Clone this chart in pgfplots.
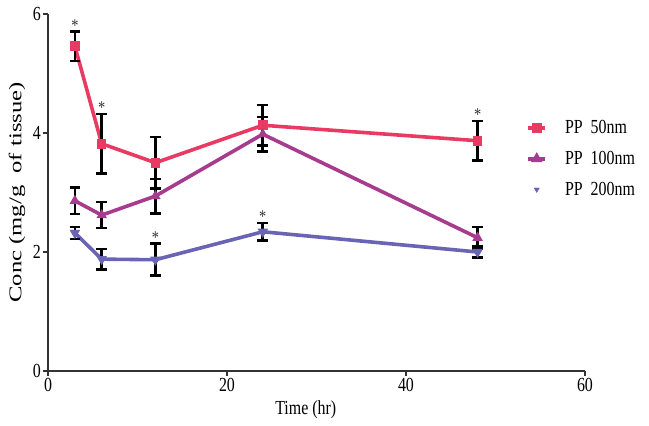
\documentclass[border=0pt]{standalone}
\usepackage{pgfplots}
\pgfplotsset{compat=1.18}
\usepackage{fontspec}
\setmainfont{Liberation Serif}
\definecolor{cA}{HTML}{E93A63}
\definecolor{cB}{HTML}{A73B8E}
\definecolor{cC}{HTML}{6A64B4}
\definecolor{axc}{HTML}{333333}
\newcommand\sx[1]{\scalebox{0.8}[1]{#1}}
\begin{document}
\begin{tikzpicture}
\path[use as bounding box] (-48bp,-55bp) rectangle (601bp,357bp+14bp);
\begin{axis}[
  width=537bp, height=357bp, scale only axis,
  at={(0,0)}, anchor=south west,
  xmin=0, xmax=60, ymin=0, ymax=6,
  xtick={0,20,40,60}, ytick={0,2,4,6},
  xticklabels={\sx{0},\sx{20},\sx{40},\sx{60}},
  yticklabels={\sx{0},\sx{2},\sx{4},\sx{6}},
  axis lines*=left,
  axis line style={axc, line width=1.4bp},
  tick style={axc, line width=1.2bp},
  tick align=outside, major tick length=5bp,
  font=\fontsize{20}{22}\selectfont,
  tick label style={font=\fontsize{20}{22}\selectfont, inner sep=2bp},
  xlabel={\sx{Time (hr)}},
  xlabel style={at={(axis description cs:0.48,0)}, anchor=north, yshift=-26bp},
  ylabel={\scalebox{1.03}[0.75]{\fontsize{24}{26}\selectfont Conc (mg/g\ \ of tissue)}},
  ylabel style={yshift=2bp},
  clip=false,
  legend style={draw=none, fill=none, at={(axis description cs:0.885,0.713)}, anchor=north west,
    font=\fontsize{20}{22}\selectfont, row sep=12bp, column sep=16bp, legend cell align=left},
  error bars/y dir=both, error bars/y explicit,
  error bars/error bar style={black, line width=2.6bp},
  error bars/error mark options={black, line width=2.6bp, mark size=5.3bp, rotate=90},
]
% PP 50nm
\addplot[cA, line width=3.6bp, mark=square*, mark size=3bp, forget plot]
  coordinates {(3,5.46)+-(0,0.25) (6,3.82)+-(0,0.50) (12,3.50)+-(0,0.43) (24,4.13)+-(0,0.34) (48,3.87)+-(0,0.33)};
% PP 100nm
\addplot[cB, line width=3.6bp, mark=triangle*, mark size=2.5bp, forget plot]
  coordinates {(3,2.86)+-(0,0.22) (6,2.62)+-(0,0.22) (12,2.94)+-(0,0.29) (24,3.98)+-(0,0.29) (48,2.24)+-(0,0.18)};
% PP 200nm
\addplot[cC, line width=3.6bp, mark=triangle*, mark size=2.5bp, mark options={rotate=180}, forget plot]
  coordinates {(3,2.32)+-(0,0.10) (6,1.88)+-(0,0.17) (12,1.87)+-(0,0.27) (24,2.34)+-(0,0.15) (48,2.00)+-(0,0.09)};
% significance asterisks
\addplot[draw=none, mark=none, forget plot, error bars/y dir=none,
  nodes near coords={\sx{*}}, nodes near coords style={anchor=south, inner sep=0bp, font=\fontsize{18}{18}\selectfont, text=axc}]
  coordinates {(3,5.71) (6,4.32) (48,4.20) (12,2.14) (24,2.49)};
\addlegendimage{cA, line width=3.6bp, mark=square*, mark size=3bp}
\addlegendentry{\sx{PP\ \ 50nm}}
\addlegendimage{cB, line width=3.6bp, mark=triangle*, mark size=3bp}
\addlegendentry{\sx{PP\ \ 100nm}}
\addlegendimage{cC, only marks, mark=triangle*, mark size=3bp, mark options={rotate=180}}
\addlegendentry{\sx{PP\ \ 200nm}}
\end{axis}
\end{tikzpicture}
\end{document}
